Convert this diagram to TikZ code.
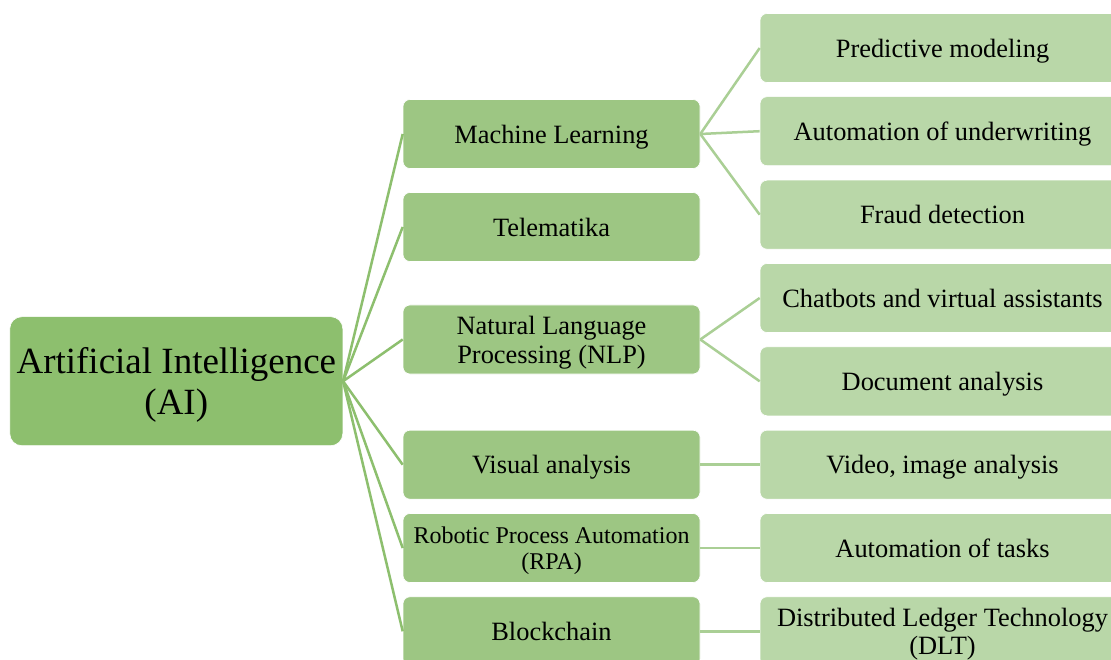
\documentclass[tikz,border=0pt]{standalone}
\usepackage{fontspec}
\setmainfont{Liberation Serif}
\definecolor{rootgreen}{HTML}{8DBF6E}
\definecolor{midgreen}{HTML}{9DC683}
\definecolor{leafgreen}{HTML}{B9D7A8}
\definecolor{leaflink}{HTML}{AACF95}
\begin{document}
\begin{tikzpicture}[x=1pt,y=-1pt,
  rootbox/.style={rectangle, rounded corners=12pt, fill=rootgreen, draw=white, line width=0.6pt,
    minimum width=333pt, minimum height=129pt, inner sep=0pt, align=center, text depth=0pt,
    font=\fontsize{37}{41}\selectfont},
  midbox/.style={rectangle, rounded corners=7pt, fill=midgreen, draw=white, line width=0.6pt,
    minimum width=297pt, minimum height=69pt, inner sep=0pt, align=center, text depth=0pt,
    font=\fontsize{26.4}{29}\selectfont},
  leafbox/.style={rectangle, rounded corners=7pt, fill=leafgreen, draw=white, line width=0.6pt,
    minimum width=365pt, minimum height=69pt, inner sep=0pt, align=center, text depth=0pt,
    font=\fontsize{26.4}{29}\selectfont},
  rootlink/.style={draw=rootgreen, line width=2.5pt},
  leaflinkstyle/.style={draw=leaflink, line width=2.5pt}]
\clip (0,0) rectangle (1111,660);
\fill[white] (0,0) rectangle (1111,660);

% root
\node[rootbox] (ai) at (176.3,381.2) {Artificial Intelligence\\(AI)};

% second level
\node[midbox] (ml)   at (551.5,134)   {Machine Learning};
\node[midbox] (tel)  at (551.5,227)   {Telematika};
\node[midbox] (nlp)  at (551.5,339.5) {Natural Language\\Processing (NLP)};
\node[midbox] (vis)  at (551.5,464.7) {Visual analysis};
\node[midbox, font=\fontsize{24}{26}\selectfont] (rpa) at (551.5,548) {Robotic Process Automation\\(RPA)};
\node[midbox] (bc)   at (551.5,631.3) {Blockchain};

% third level
\node[leafbox] (pm)  at (942.5,48)    {Predictive modeling};
\node[leafbox] (au)  at (942.5,131.2) {Automation of underwriting};
\node[leafbox] (fd)  at (942.5,214.7) {Fraud detection};
\node[leafbox] (cb)  at (942.5,298)   {Chatbots and virtual assistants};
\node[leafbox] (da)  at (942.5,381.3) {Document analysis};
\node[leafbox] (via) at (942.5,464.7) {Video, image analysis};
\node[leafbox] (at)  at (942.5,548)   {Automation of tasks};
\node[leafbox, font=\fontsize{26.4}{27.5}\selectfont] (dlt) at (942.5,631.3) {Distributed Ledger Technology\\(DLT)};

% links from the root
\foreach \n in {ml,tel,nlp,vis,rpa,bc}
  \draw[rootlink] (ai.east) -- (\n.west);

% links to the leaves
\draw[leaflinkstyle] (ml.east) -- (pm.west);
\draw[leaflinkstyle] (ml.east) -- (au.west);
\draw[leaflinkstyle] (ml.east) -- (fd.west);
\draw[leaflinkstyle] (nlp.east) -- (cb.west);
\draw[leaflinkstyle] (nlp.east) -- (da.west);
\draw[leaflinkstyle] (vis.east) -- (via.west);
\draw[leaflinkstyle] (rpa.east) -- (at.west);
\draw[leaflinkstyle] (bc.east) -- (dlt.west);
\end{tikzpicture}
\end{document}
